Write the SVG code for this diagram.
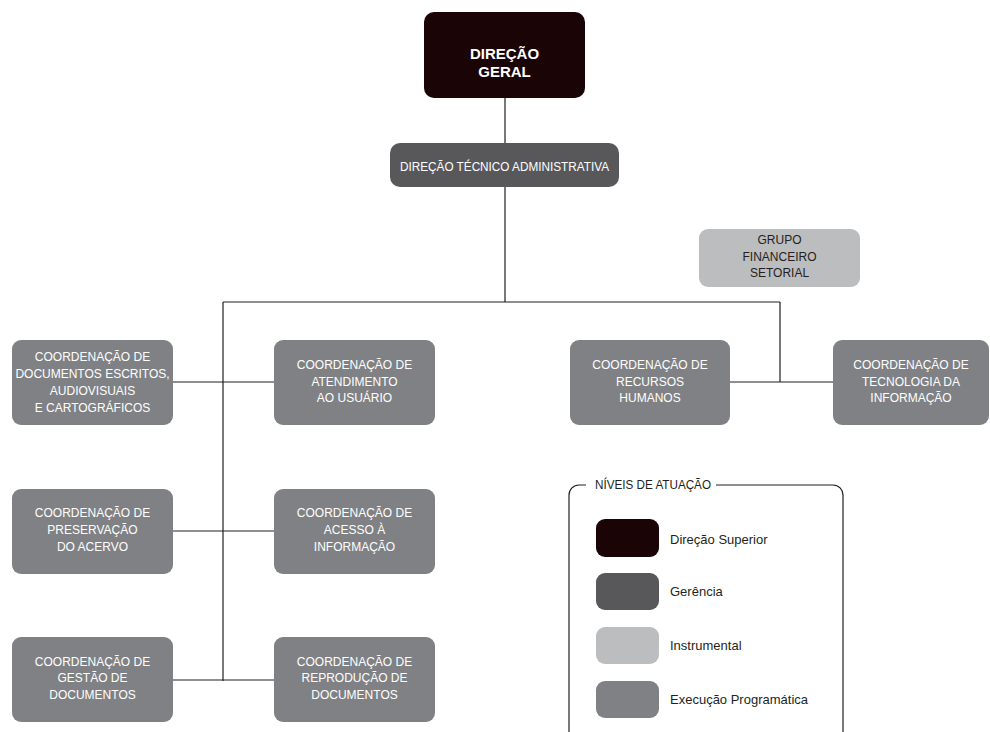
<svg xmlns="http://www.w3.org/2000/svg" width="990" height="732" viewBox="0 0 990 732">
<style>
text{font-family:"Liberation Sans",Arial,sans-serif;font-size:12px;}
.w{fill:#ffffff;text-anchor:middle;}
.d{fill:#231f20;}
.c{text-anchor:middle;}
.lg{font-size:13px;}
.exec{fill:#808184;}
.conn{stroke:#231f20;stroke-width:1.2;fill:none;}
</style>
<rect width="990" height="732" fill="#ffffff"/>
<g id="connectors">
<path class="conn" d="M505,98V143M505,187V302M223,302H780M223,302V681M780,302V382M173,382H274M173,531H274M173,680H274M730,382H833"/>
</g>
<g id="direcao-geral">
<rect x="424" y="12" width="161" height="86" rx="10" fill="#1a0406"/>
<text class="w" x="504.5" y="59" style="font-weight:bold;font-size:15px">DIREÇÃO</text>
<text class="w" x="504.5" y="77" style="font-weight:bold;font-size:15px">GERAL</text>
</g>
<g id="direcao-tecnico">
<rect x="390" y="143" width="229" height="44" rx="10" fill="#58585a"/>
<text class="w" x="504.5" y="171" textLength="209" lengthAdjust="spacingAndGlyphs">DIREÇÃO TÉCNICO ADMINISTRATIVA</text>
</g>
<g id="grupo-financeiro">
<rect x="699" y="229" width="161" height="58" rx="9" fill="#bcbdbf"/>
<text class="d c" x="779.5" y="244">GRUPO</text>
<text class="d c" x="779.5" y="261">FINANCEIRO</text>
<text class="d c" x="779.5" y="277">SETORIAL</text>
</g>
<g id="coord-documentos">
<rect class="exec" x="12" y="340" width="161" height="85" rx="9"/>
<text class="w" x="92.5" y="361">COORDENAÇÃO DE</text>
<text class="w" x="92.5" y="378">DOCUMENTOS ESCRITOS,</text>
<text class="w" x="92.5" y="395">AUDIOVISUAIS</text>
<text class="w" x="92.5" y="412">E CARTOGRÁFICOS</text>
</g>
<g id="coord-atendimento">
<rect class="exec" x="274" y="340" width="161" height="85" rx="9"/>
<text class="w" x="354.5" y="369">COORDENAÇÃO DE</text>
<text class="w" x="354.5" y="386">ATENDIMENTO</text>
<text class="w" x="354.5" y="402">AO USUÁRIO</text>
</g>
<g id="coord-rh">
<rect class="exec" x="570" y="340" width="160" height="85" rx="9"/>
<text class="w" x="650" y="369">COORDENAÇÃO DE</text>
<text class="w" x="650" y="386">RECURSOS</text>
<text class="w" x="650" y="402">HUMANOS</text>
</g>
<g id="coord-ti">
<rect class="exec" x="833" y="340" width="156" height="85" rx="9"/>
<text class="w" x="911" y="369">COORDENAÇÃO DE</text>
<text class="w" x="911" y="386">TECNOLOGIA DA</text>
<text class="w" x="911" y="402">INFORMAÇÃO</text>
</g>
<g id="coord-preservacao">
<rect class="exec" x="12" y="489" width="161" height="85" rx="9"/>
<text class="w" x="92.5" y="517">COORDENAÇÃO DE</text>
<text class="w" x="92.5" y="534">PRESERVAÇÃO</text>
<text class="w" x="92.5" y="551">DO ACERVO</text>
</g>
<g id="coord-acesso">
<rect class="exec" x="274" y="489" width="161" height="85" rx="9"/>
<text class="w" x="354.5" y="517">COORDENAÇÃO DE</text>
<text class="w" x="354.5" y="534">ACESSO À</text>
<text class="w" x="354.5" y="551">INFORMAÇÃO</text>
</g>
<g id="coord-gestao">
<rect class="exec" x="12" y="637" width="161" height="85" rx="9"/>
<text class="w" x="92.5" y="666">COORDENAÇÃO DE</text>
<text class="w" x="92.5" y="682">GESTÃO DE</text>
<text class="w" x="92.5" y="699">DOCUMENTOS</text>
</g>
<g id="coord-reproducao">
<rect class="exec" x="274" y="637" width="161" height="85" rx="9"/>
<text class="w" x="354.5" y="666">COORDENAÇÃO DE</text>
<text class="w" x="354.5" y="682">REPRODUÇÃO DE</text>
<text class="w" x="354.5" y="699">DOCUMENTOS</text>
</g>
<g id="legenda">
<path class="conn" d="M586,485H579A10,10 0 0 0 569,495V740M716,485H833A10,10 0 0 1 843,495V740"/>
<text class="d" x="595" y="489" textLength="116" lengthAdjust="spacingAndGlyphs">NÍVEIS DE ATUAÇÃO</text>
<rect x="596" y="519" width="63" height="38" rx="9" fill="#1a0406"/>
<text class="d lg" x="670" y="544">Direção Superior</text>
<rect x="596" y="573" width="63" height="37" rx="9" fill="#58585a"/>
<text class="d lg" x="670" y="596">Gerência</text>
<rect x="596" y="627" width="63" height="37" rx="9" fill="#bcbdbf"/>
<text class="d lg" x="670" y="650">Instrumental</text>
<rect x="596" y="681" width="63" height="37" rx="9" fill="#808184"/>
<text class="d lg" x="670" y="704">Execução Programática</text>
</g>
</svg>
